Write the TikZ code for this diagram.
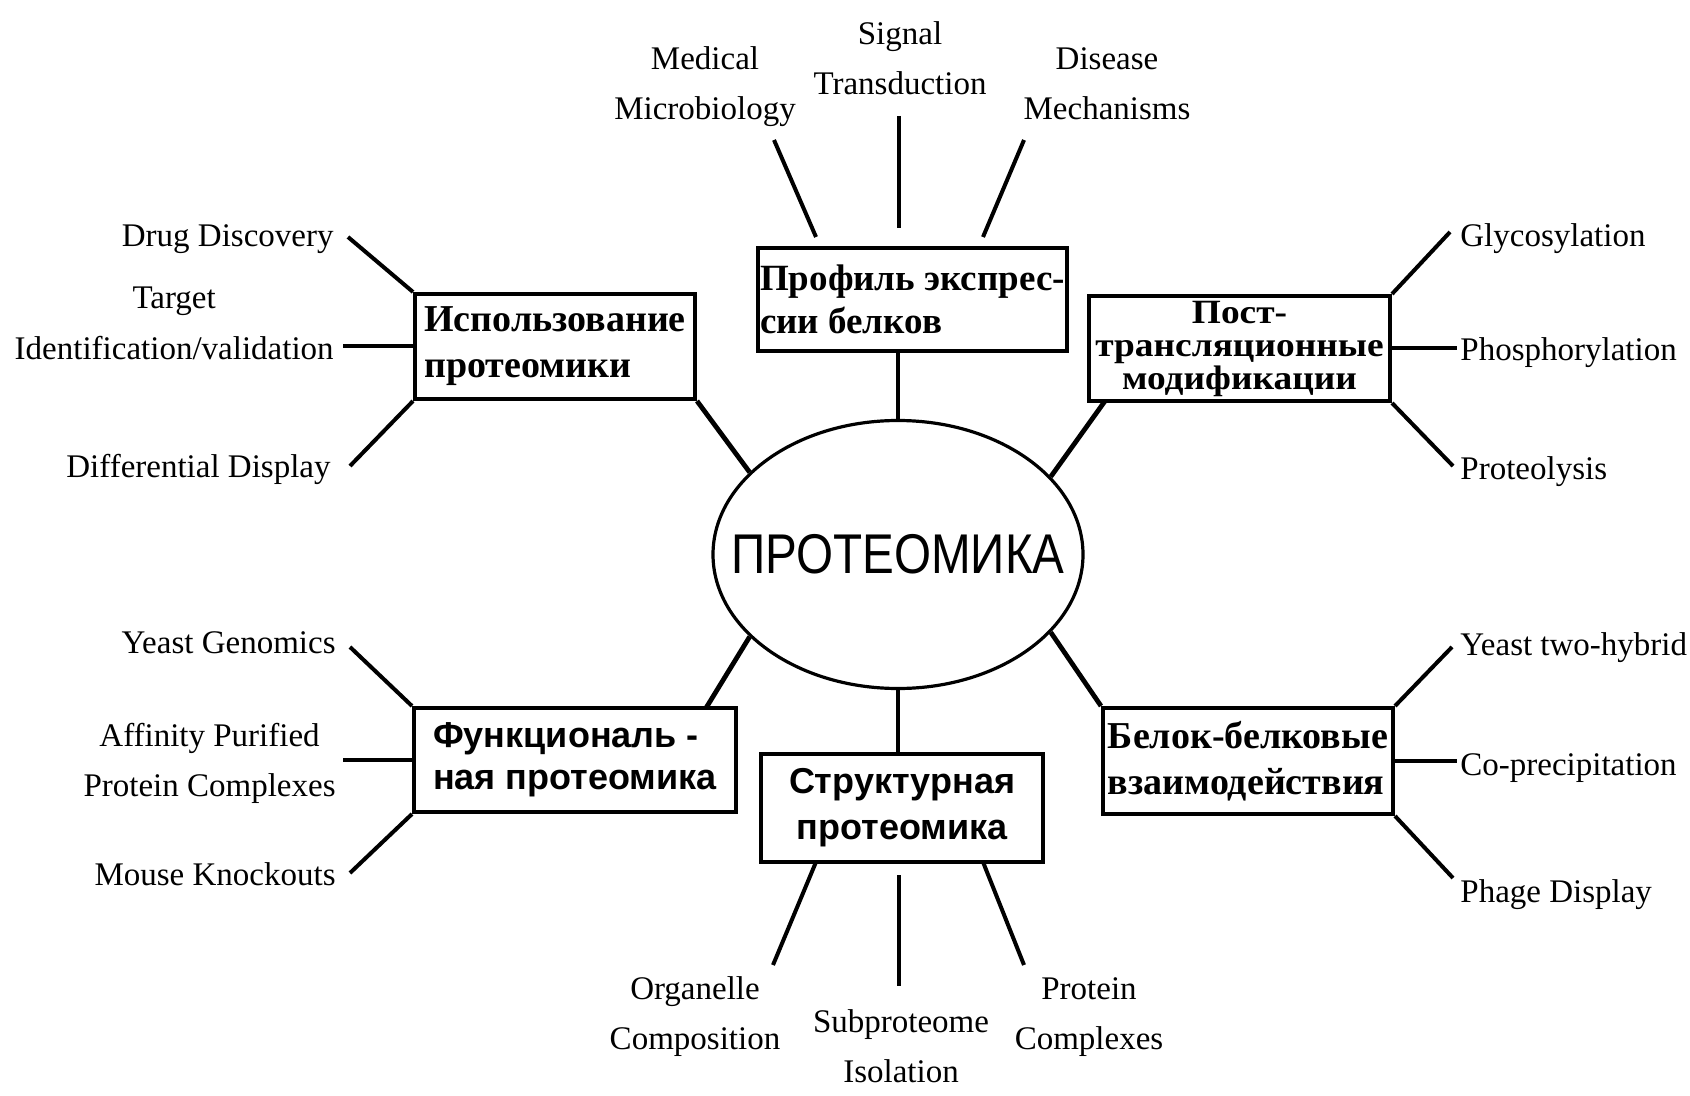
\documentclass[tikz,border=0pt]{standalone}
\usepackage{fontspec}
\setmainfont{Liberation Serif}
\setsansfont{Liberation Sans}
\newfontfamily\widebold[FakeStretch=1.10]{Liberation Serif Bold}
\usetikzlibrary{shapes.geometric}

\begin{document}
\begin{tikzpicture}[x=0.5pt,y=-0.5pt,
  leaf/.style={inner sep=0pt, font=\fontsize{16.5}{25}\selectfont},
  sbox/.style={draw, line width=2pt, inner sep=0pt,
    font=\bfseries\fontsize{19}{23}\selectfont},
  fbox/.style={draw, line width=2pt, inner sep=0pt,
    font=\sffamily\bfseries\fontsize{18}{22}\selectfont},
  hub/.style={line width=2.4pt},
  twig/.style={line width=2pt}]

\useasboundingbox (0,0) rectangle (1690,1096);

% central topic (the label is given no width, so the ellipse keeps its set size)
\node[ellipse, draw, line width=1.6pt, minimum width=185pt, minimum height=134pt,
  inner sep=0pt, font=\sffamily\fontsize{28}{30}\selectfont]
  (P) at (898,554.5) {\makebox[0pt]{\scalebox{0.85}[1]{ПРОТЕОМИКА}}};

% six branches
\node[sbox, minimum width=140pt, minimum height=52.5pt, align=left]
  (A) at (555,346.5) {Использование\\протеомики};
\node[sbox, minimum width=154.5pt, minimum height=51.5pt, align=left,
  font=\bfseries\fontsize{18.5}{21.5}\selectfont]
  (B) at (912.5,299.5) {Профиль экспрес-\\сии белков};
\node[sbox, minimum width=150.5pt, minimum height=52.5pt, align=center,
  font=\widebold\fontsize{17}{16.5}\selectfont]
  (C) at (1239.5,348.5) {Пост-\\трансляционные\\модификации};
\node[fbox, minimum width=161pt, minimum height=52pt, align=left,
  font=\sffamily\bfseries\fontsize{18}{21}\selectfont]
  (D) at (575,760) {Функциональ -\\ная протеомика};
\node[fbox, minimum width=141pt, minimum height=54pt, align=center,
  font=\sffamily\bfseries\fontsize{18}{23}\selectfont]
  (E) at (902,808) {Структурная\\протеомика};
\node[sbox, minimum width=145pt, minimum height=53pt, align=left]
  (F) at (1248,761) {Белок-белковые\\взаимодействия};

% branches to the centre
\coordinate (Bb) at (898,351);
\coordinate (Cb) at (1105,401);
\coordinate (Dt) at (706,708);
\coordinate (Et) at (898,754);
\draw[hub] (A.south east) -- (P.151);
\draw[hub] (Bb) -- (P.north);
\draw[hub] (Cb) -- (P.27);
\draw[hub] (Dt) -- (P.209);
\draw[hub] (Et) -- (P.south);
\draw[hub] (F.north west) -- (P.333);

% leaves of the upper left branch
\node[leaf, anchor=base east] (dd) at (334,247) {Drug Discovery};
\node[leaf, anchor=base east, align=center] (ti) at (334,359) {Target\\Identification/validation};
\node[leaf, anchor=base east] (dif) at (331,477) {Differential Display};
\coordinate (ddL) at (348,237);
\coordinate (tiL) at (343,346.5);
\coordinate (difL) at (350,466);
\draw[twig] (A.north west) -- (ddL);
\draw[twig] (A.west) -- (tiL);
\draw[twig] (A.south west) -- (difL);

% leaves of the top branch
\node[leaf, anchor=base, align=center] (mm) at (705,120) {Medical\\Microbiology};
\node[leaf, anchor=base, align=center] (st) at (900,95) {Signal\\Transduction};
\node[leaf, anchor=base, align=center] (dm) at (1107,120) {Disease\\Mechanisms};
\coordinate (mmA) at (774,140);  \coordinate (mmB) at (816,237);
\coordinate (stA) at (899,116);  \coordinate (stB) at (899,228);
\coordinate (dmA) at (1024,140); \coordinate (dmB) at (983,237);
\draw[twig] (mmA) -- (mmB);
\draw[twig] (stA) -- (stB);
\draw[twig] (dmA) -- (dmB);

% leaves of the upper right branch
\node[leaf, anchor=base west] (gl) at (1460,247) {Glycosylation};
\node[leaf, anchor=base west] (ph) at (1460,360) {Phosphorylation};
\node[leaf, anchor=base west] (pr) at (1460,479) {Proteolysis};
\coordinate (glL) at (1450,232);
\coordinate (phL) at (1457,348.5);
\coordinate (prL) at (1453,466);
\draw[twig] (C.north east) -- (glL);
\draw[twig] (C.east) -- (phL);
\draw[twig] (C.south east) -- (prL);

% leaves of the lower left branch
\node[leaf, anchor=base east] (yg) at (336,653) {Yeast Genomics};
\node[leaf, anchor=base east, align=center] (ap) at (336,796) {Affinity Purified\\Protein Complexes};
\node[leaf, anchor=base east] (mk) at (336,885) {Mouse Knockouts};
\coordinate (ygL) at (350,647);
\coordinate (apL) at (343,760);
\coordinate (mkL) at (350,873);
\draw[twig] (D.north west) -- (ygL);
\draw[twig] (D.west) -- (apL);
\draw[twig] (D.south west) -- (mkL);

% leaves of the bottom branch
\node[leaf, anchor=base, align=center] (oc) at (695,1049) {Organelle\\Composition};
\node[leaf, anchor=base, align=center] (si) at (901,1082) {Subproteome\\Isolation};
\node[leaf, anchor=base, align=center] (pc) at (1089,1049) {Protein\\Complexes};
\coordinate (ocA) at (816,862); \coordinate (ocB) at (773,965);
\coordinate (siA) at (899,875); \coordinate (siB) at (899,986);
\coordinate (pcA) at (983,862); \coordinate (pcB) at (1024,965);
\draw[twig] (ocA) -- (ocB);
\draw[twig] (siA) -- (siB);
\draw[twig] (pcA) -- (pcB);

% leaves of the lower right branch
\node[leaf, anchor=base west] (yt) at (1460,655) {Yeast two-hybrid};
\node[leaf, anchor=base west] (cp) at (1460,775) {Co-precipitation};
\node[leaf, anchor=base west] (pd) at (1460,902) {Phage Display};
\coordinate (ytL) at (1452,647);
\coordinate (cpL) at (1457,761);
\coordinate (pdL) at (1453,878);
\draw[twig] (F.north east) -- (ytL);
\draw[twig] (F.east) -- (cpL);
\draw[twig] (F.south east) -- (pdL);

\end{tikzpicture}
\end{document}
